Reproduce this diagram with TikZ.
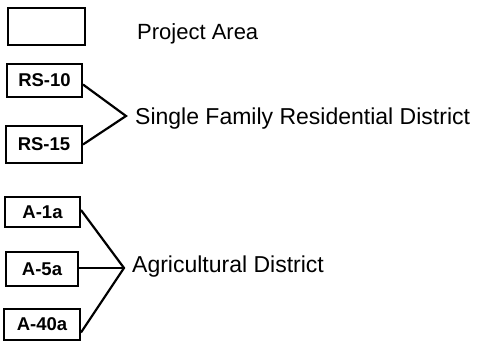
\documentclass[tikz,border=0pt]{standalone}
\usepackage{fontspec}
\setmainfont{Liberation Sans}
\usetikzlibrary{calc}
\begin{document}
\begin{tikzpicture}[x=1pt,y=-1pt,
  zbox/.style={draw=black,line width=2pt,inner sep=0pt,font=\fontsize{18.5}{18.5}\selectfont\bfseries},
  lbl/.style={anchor=base west,inner sep=0pt},
  conn/.style={draw=black,line width=2.2pt,line join=miter}]
\useasboundingbox (0,0) rectangle (482,350);
% boxes
\node[zbox,minimum width=77pt,minimum height=37pt] (pa) at (46.5,26.5) {};
\node[zbox,minimum width=75pt,minimum height=33pt] (rs10) at (44.5,80.5) {RS-10};
\node[zbox,minimum width=76pt,minimum height=37pt] (rs15) at (44,144.5) {RS-15};
\node[zbox,minimum width=75pt,minimum height=30pt] (a1) at (42.5,212) {A-1a};
\node[zbox,minimum width=72pt,minimum height=34pt] (a5) at (42,269) {A-5a};
\node[zbox,minimum width=76pt,minimum height=31pt] (a40) at (42,324.5) {A-40a};
% labels
\node[lbl,font=\fontsize{22}{22}\selectfont] (lpa) at (137,40) {Project Area};
\node[lbl,font=\fontsize{23}{23}\selectfont] (lsf) at (135,125) {Single Family Residential District};
\node[lbl,font=\fontsize{23}{23}\selectfont] (lag) at (132,272) {Agricultural District};
% vertices
\coordinate (vsf) at (126,116);
\coordinate (vag) at (124,268);
% connectors
\draw[conn] ($(rs10.east)+(0,4)$) -- (vsf) -- (rs15.east);
\draw[conn] ($(a1.east)+(0,-2)$) -- (vag) -- ($(a40.east)+(0,8)$);
\draw[conn] (a5.east |- vag) -- (vag);
\end{tikzpicture}
\end{document}
